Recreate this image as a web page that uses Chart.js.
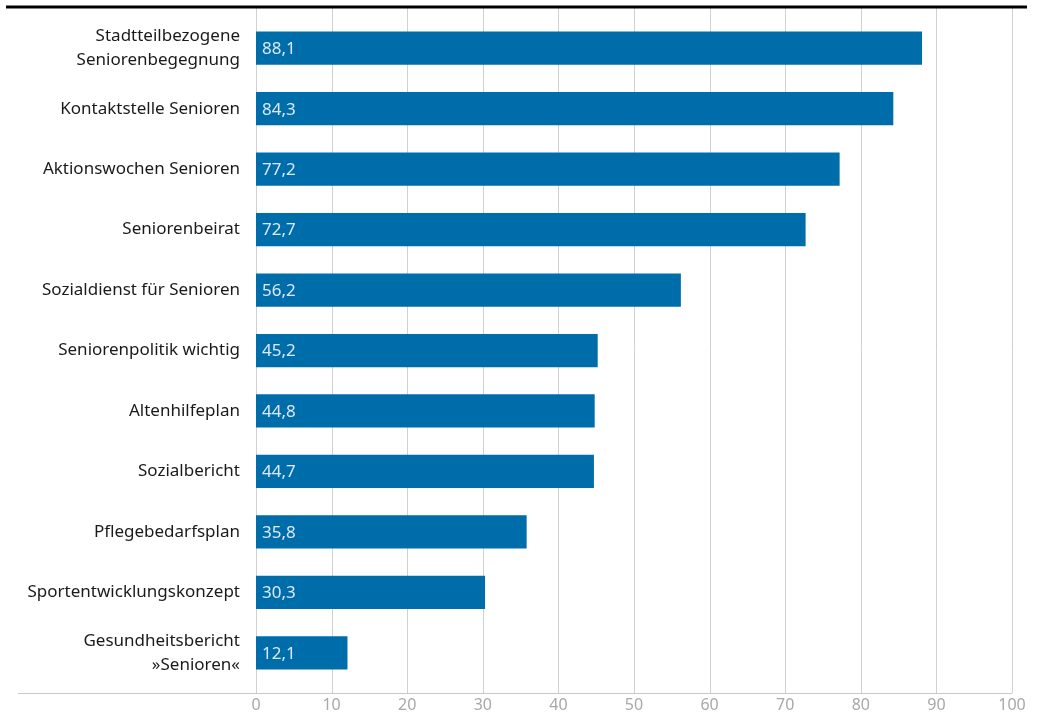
<!DOCTYPE html>
<html>
<head>
<meta charset="utf-8">
<script src="https://cdn.jsdelivr.net/npm/chart.js@4"></script>
<style>
  html, body { margin: 0; padding: 0; background: #fff; }
  #wrap { width: 1038px; height: 716px; }
</style>
</head>
<body>
<div id="wrap"><canvas id="chart"></canvas></div>
<script>
var kategorien = [
  ['Stadtteilbezogene', 'Seniorenbegegnung'],
  'Kontaktstelle Senioren',
  'Aktionswochen Senioren',
  'Seniorenbeirat',
  'Sozialdienst für Senioren',
  'Seniorenpolitik wichtig',
  'Altenhilfeplan',
  'Sozialbericht',
  'Pflegebedarfsplan',
  'Sportentwicklungskonzept',
  ['Gesundheitsbericht', '»Senioren«']
];
var werte = [88.1, 84.3, 77.2, 72.7, 56.2, 45.2, 44.8, 44.7, 35.8, 30.3, 12.1];
var achsenTicks = [0, 10, 20, 30, 40, 50, 60, 70, 80, 90, 100];

var schrift = 'Noto Sans';

// Linien: Gitter, obere schwarze Linie, untere Achse
var linienPlugin = {
  id: 'linien',
  beforeDatasetsDraw: function (chart) {
    var c = chart.ctx;
    var x = chart.scales.x;
    var oben = 8, unten = 693;
    c.save();
    c.strokeStyle = '#d0d0d0';
    c.lineWidth = 1;
    achsenTicks.forEach(function (t) {
      var px = Math.round(x.getPixelForValue(t)) + 0.5;
      c.beginPath();
      c.moveTo(px, oben);
      c.lineTo(px, unten);
      c.stroke();
    });
    c.strokeStyle = '#c8c8c8';
    c.beginPath();
    c.moveTo(18, unten + 0.5);
    c.lineTo(x.getPixelForValue(100), unten + 0.5);
    c.stroke();
    c.strokeStyle = '#000';
    c.lineWidth = 3;
    c.beginPath();
    c.moveTo(6, 7);
    c.lineTo(1027, 7);
    c.stroke();
    c.restore();
  },
  afterDatasetsDraw: function (chart) {
    var c = chart.ctx;
    var meta = chart.getDatasetMeta(0);
    c.save();
    c.fillStyle = '#dce9f4';
    c.font = '17px "' + schrift + '"';
    c.textBaseline = 'middle';
    c.textAlign = 'left';
    meta.data.forEach(function (bar, i) {
      c.fillText(werte[i].toFixed(1).replace('.', ','), bar.base + 6, bar.y + 1);
    });
    c.restore();
  }
};

new Chart(document.getElementById('chart'), {
  type: 'bar',
  plugins: [linienPlugin],
  data: {
    labels: kategorien,
    datasets: [{
      data: werte,
      backgroundColor: '#006dab',
      borderWidth: 0,
      categoryPercentage: 1,
      barPercentage: 0.55
    }]
  },
  options: {
    indexAxis: 'y',
    responsive: true,
    maintainAspectRatio: false,
    animation: false,
    layout: { padding: { top: 18, right: 26, left: 0, bottom: 0 } },
    plugins: {
      legend: { display: false },
      tooltip: { enabled: false }
    },
    scales: {
      x: {
        min: 0,
        max: 100,
        afterFit: function (s) {
          s.height = 33;
          s.paddingLeft = 0;
          s.paddingRight = 0;
        },
        afterBuildTicks: function (s) {
          s.ticks = achsenTicks.map(function (v) { return { value: v }; });
        },
        grid: { display: false, drawTicks: false },
        border: { display: false },
        ticks: {
          color: '#a8a8a8',
          padding: 13,
          maxRotation: 0,
          font: { family: schrift, size: 16 }
        }
      },
      y: {
        afterFit: function (s) {
          s.width = 256;
          s.paddingTop = 0;
          s.paddingBottom = 0;
        },
        grid: { display: false, drawTicks: false },
        border: { display: false },
        ticks: {
          color: '#1a1a1a',
          padding: 16,
          font: { family: schrift, size: 17, lineHeight: 1.4 }
        }
      }
    }
  }
});
</script>
</body>
</html>
